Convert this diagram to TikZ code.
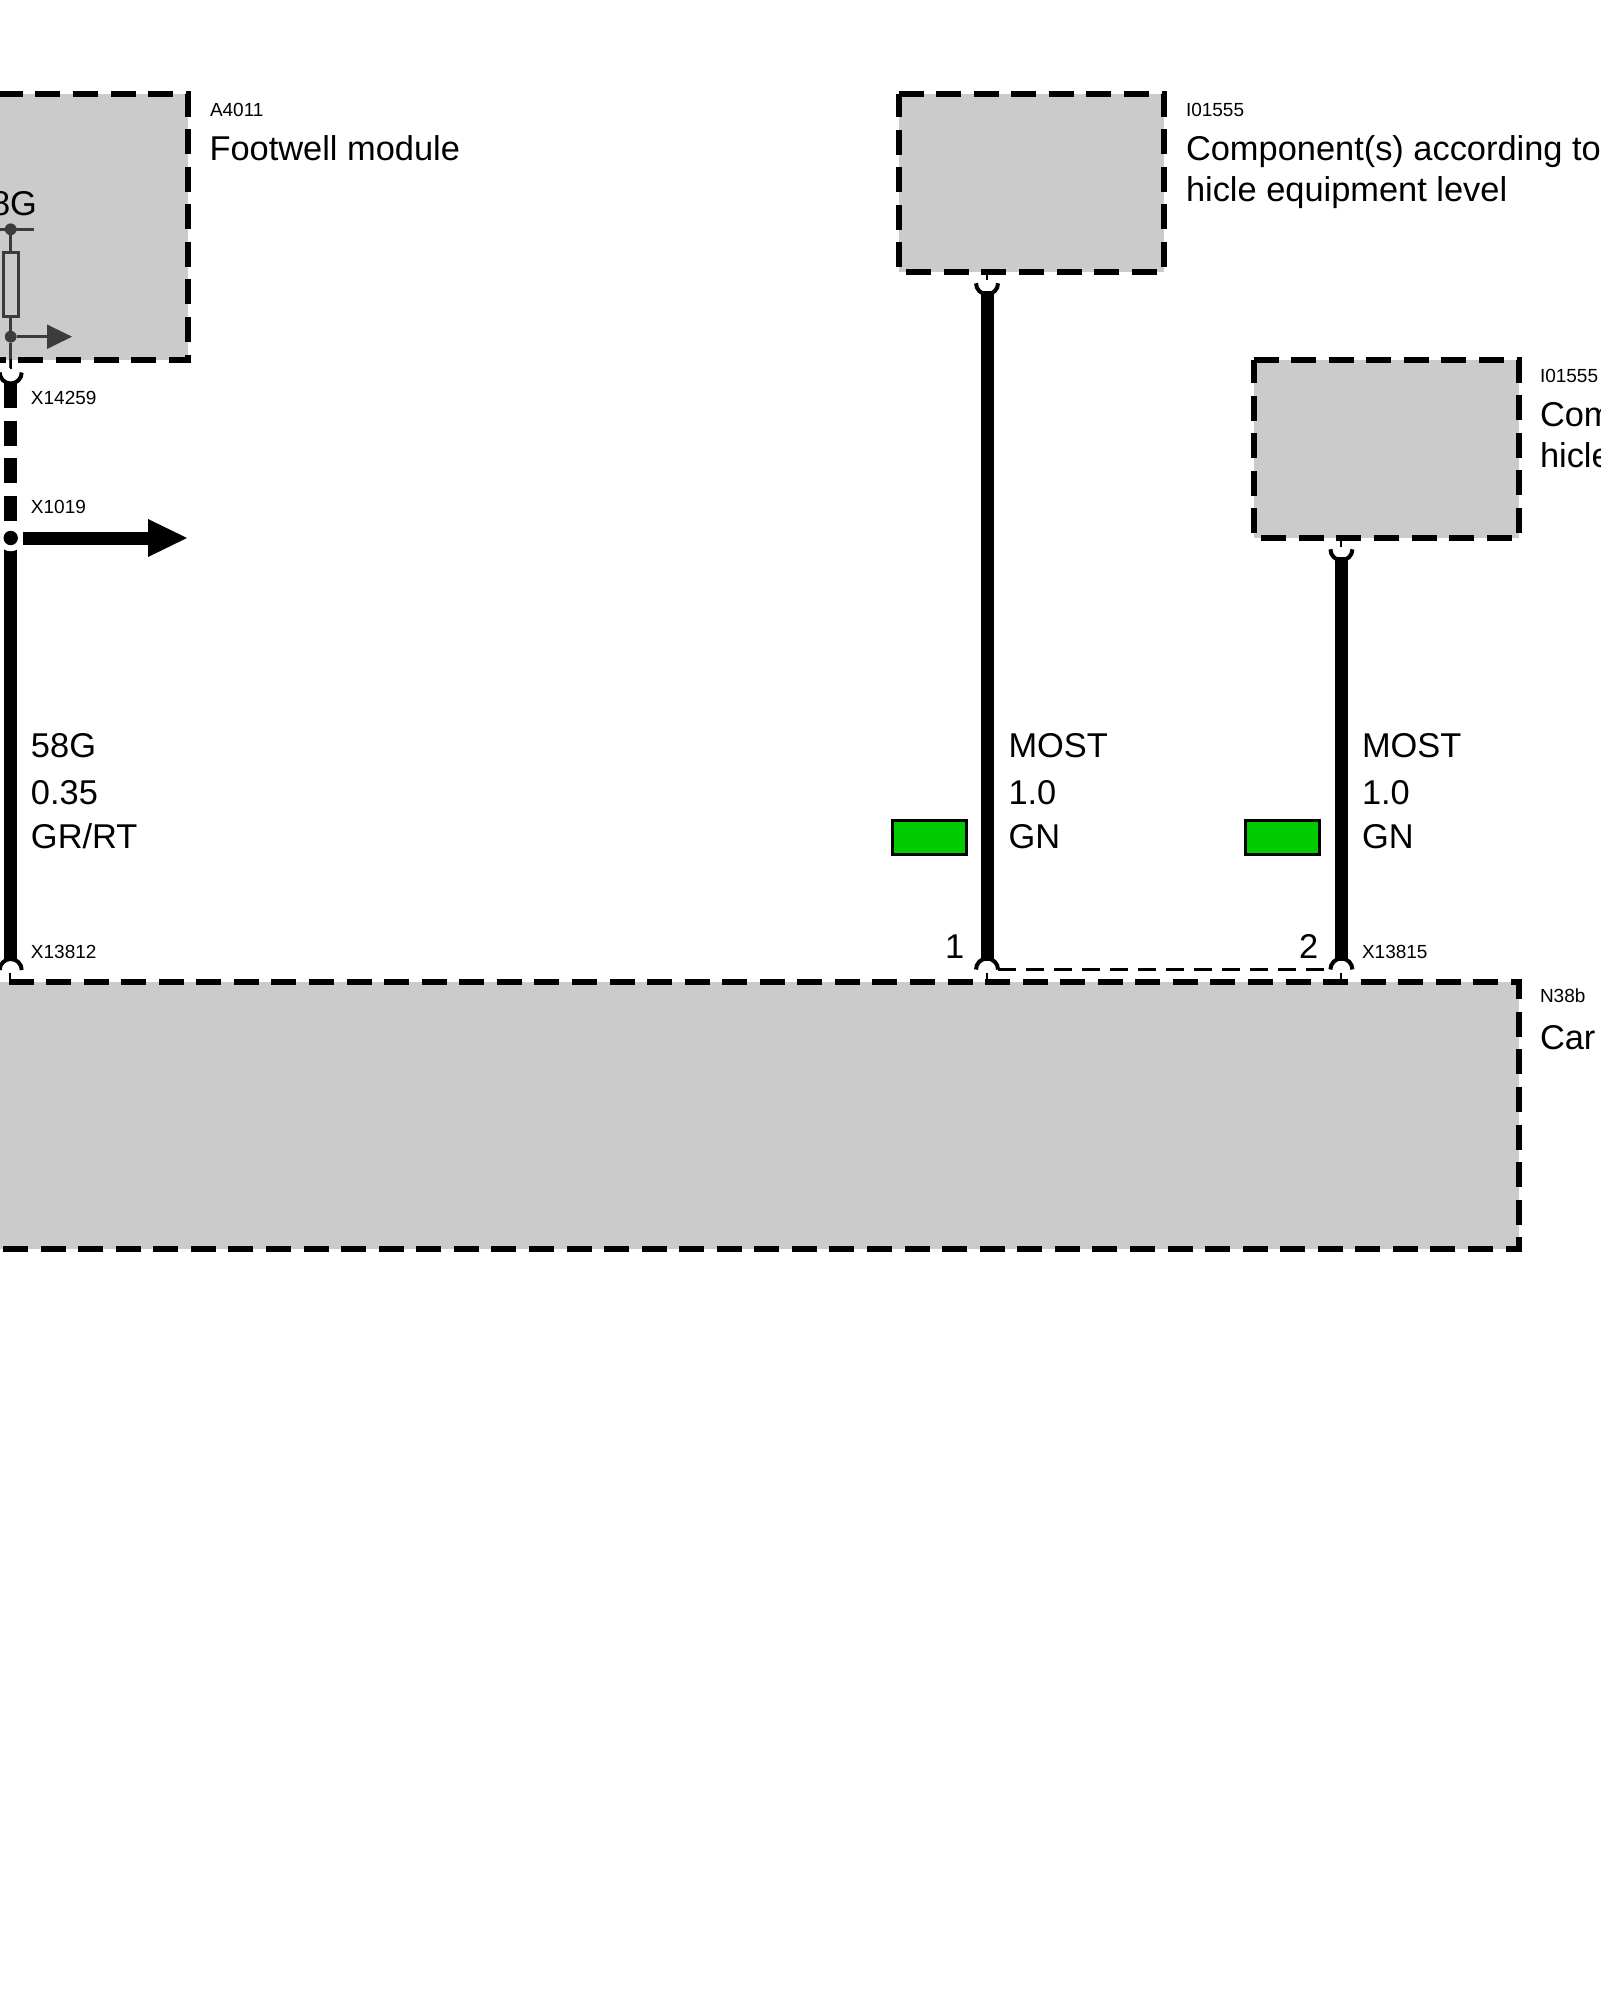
\documentclass[tikz,border=0pt]{standalone}
\usepackage{fontspec}
\setmainfont{Liberation Sans}
\definecolor{boxgray}{HTML}{CBCBCB}
\definecolor{dark}{HTML}{3C3C3C}
\definecolor{wiregreen}{HTML}{00CC00}
\tikzset{
  x=0.5pt,y=-0.5pt,
  modfill/.style={rectangle,fill=boxgray,inner sep=0pt,outer sep=0pt,anchor=north west},
  moddash/.style={draw=black,line width=3.05pt,dash pattern=on 12.5pt off 6.28pt},
  bus/.style={draw=black,line width=6.5pt},
  busdash/.style={draw=black,line width=6.5pt,dash pattern=on 12.5pt off 6.3pt},
  thinstub/.style={draw=black,line width=1pt},
  pincup/.style={draw=black,line width=2pt},
  shield/.style={draw=black,line width=1.25pt,dash pattern=on 8.8pt off 5.2pt},
  inner/.style={draw=dark,line width=1.6pt},
  smalltxt/.style={anchor=base west,inner sep=0pt,outer sep=0pt,font=\fontsize{9.5}{11}\selectfont},
  bigtxt/.style={anchor=base west,inner sep=0pt,outer sep=0pt,font=\fontsize{17.2}{20}\selectfont},
  swatch/.style={rectangle,draw=black,line width=1.5pt,fill=wiregreen,inner sep=0pt,outer sep=0pt,minimum width=37pt,minimum height=17pt},
  dotn/.style={circle,fill=dark,inner sep=0pt,outer sep=0pt,minimum size=5.9pt},
}
\newcommand{\cupdown}[1]{\draw[pincup] ([xshift=-5.5pt]#1) arc[start angle=180,end angle=360,radius=5.5pt];}
\newcommand{\capup}[1]{\draw[pincup] ([xshift=-5.5pt]#1) arc[start angle=180,end angle=0,radius=5.5pt];}
\begin{document}
\begin{tikzpicture}
\useasboundingbox (0,0) rectangle (1600,2000);
\fill[white] (0,0) rectangle (1600,2000);
% modules
\node[modfill,minimum width=132.8pt,minimum height=132.8pt] (fw) at (-77.3,94.3) {};
\node[modfill,minimum width=132.7pt,minimum height=89pt] (ia) at (898.6,94.3) {};
\node[modfill,minimum width=132.7pt,minimum height=89pt] (ib) at (1253.6,360.3) {};
\node[modfill,minimum width=774pt,minimum height=133.2pt] (car) at (-29,982.3) {};
\foreach \m in {fw,ia,ib,car}
  \draw[moddash] (\m.north west) -- (\m.north east) -- (\m.south east) -- (\m.south west) -- cycle;
% coordinates
\coordinate (p1top) at (10.7,372.5);
\coordinate (p1dash) at (10.7,383);
\coordinate (x1019) at (10.7,538);
\coordinate (p1bot) at (10.7,970);
\coordinate (p2top) at (987,283.3);
\coordinate (p2bot) at (987,969.5);
\coordinate (p3top) at (1341.4,549.3);
\coordinate (p3bot) at (1341.4,969.5);
% footwell inner circuit
\node[dotn] (jt) at (10.7,229.3) {};
\node[dotn] (jb) at (10.7,336.7) {};
\node[rectangle,draw=dark,line width=1.5pt,inner sep=0pt,outer sep=0pt,minimum width=7.4pt,minimum height=32pt] (res) at (11.2,284.2) {};
\coordinate (rl) at (-10,229.3);
\coordinate (rr) at (34.3,229.3);
\coordinate (oute) at (47,336.7);
\coordinate (outt) at (72,336.7);
\draw[inner] (rl) -- (rr);
\draw[inner] (jt) -- (10.7,252);
\draw[inner] (10.7,316) -- (jb);
\draw[inner] (jb) -- (10.7,368);
\draw[inner] (jb) -- (oute);
\fill[dark] (47,324.5) -- (outt) -- (47,349) -- cycle;
% wires
\draw[busdash] (p1dash) -- (x1019);
\draw[bus] (x1019) -- (10.7,961);
\draw[bus] (987,291) -- (987,961);
\draw[bus] (1341.4,557) -- (1341.4,961);
% pins
\cupdown{p1top} \cupdown{p2top} \cupdown{p3top}
\capup{p1bot} \capup{p2bot} \capup{p3bot}
\draw[thinstub] (10,973) -- (10,982);
\draw[thinstub] (987,973) -- (987,982);
\draw[thinstub] (1341.4,973) -- (1341.4,982);
\draw[thinstub] (987,272.3) -- (987,280.5);
\draw[thinstub] (1341.4,538.3) -- (1341.4,546.5);
\draw[thinstub] (10.7,359.5) -- (10.7,369);
% shield dashed link
\draw[shield] (998,969.5) -- (1328,969.5);
% X1019 splice and arrow
\fill[white] (x1019) circle[radius=6.6pt];
\fill[black] (x1019) circle[radius=3.6pt];
\coordinate (as) at (23,538);
\coordinate (ae) at (148,538);
\draw[bus] (as) -- (ae);
\fill[black] (148,519) -- (187,538) -- (148,557) -- cycle;
% swatches
\node[swatch] (g1) at (929.8,837.5) {};
\node[swatch] (g2) at (1282.6,837.5) {};
% texts
\node[smalltxt] (t1) at (210,116.5) {A4011};
\node[bigtxt] (t2) at (209.5,161) {Footwell module};
\node[bigtxt] (t3) at (-9,216) {8G};
\node[smalltxt] (t4) at (1186,116.5) {I01555};
\node[bigtxt] (t5) at (1186,161) {Component(s) according to};
\node[bigtxt] (t6) at (1186,201.5) {hicle equipment level};
\node[smalltxt] (t7) at (1540,382.5) {I01555};
\node[bigtxt] (t8) at (1540,427) {Com};
\node[bigtxt] (t9) at (1540,467) {hicle};
\node[smalltxt] (t10) at (31,404.5) {X14259};
\node[smalltxt] (t11) at (31,513) {X1019};
\node[bigtxt] (t12) at (31,757) {58G};
\node[bigtxt] (t13) at (31,804) {0.35};
\node[bigtxt] (t14) at (31,848) {GR/RT};
\node[bigtxt] (t15) at (1008.5,757) {MOST};
\node[bigtxt] (t16) at (1008.5,804) {1.0};
\node[bigtxt] (t17) at (1008.5,848) {GN};
\node[bigtxt] (t18) at (1362,757) {MOST};
\node[bigtxt] (t19) at (1362,804) {1.0};
\node[bigtxt] (t20) at (1362,848) {GN};
\node[smalltxt] (t21) at (31,958) {X13812};
\node[smalltxt] (t22) at (1362,958) {X13815};
\node[bigtxt] (t23) at (945,958) {1};
\node[bigtxt] (t24) at (1299,958) {2};
\node[smalltxt] (t25) at (1540,1002) {N38b};
\node[bigtxt] (t26) at (1540,1049) {Car};
\end{tikzpicture}
\end{document}
